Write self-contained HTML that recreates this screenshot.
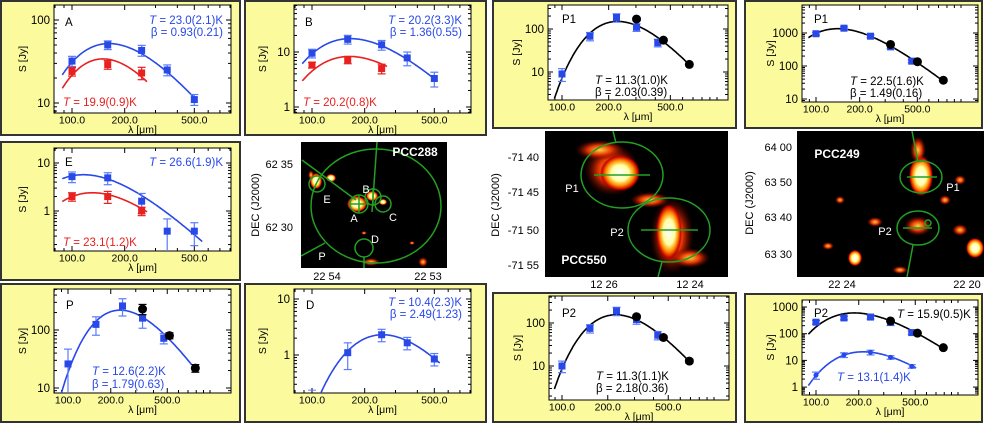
<!DOCTYPE html>
<html><head><meta charset="utf-8"><style>
html,body{margin:0;padding:0;background:#fff;overflow:hidden;}
svg{display:block;font-family:"Liberation Sans",sans-serif;}
</style></head><body>
<svg id="fig" width="984" height="423" viewBox="0 0 984 423" xmlns="http://www.w3.org/2000/svg">
<defs>
<radialGradient id="hot"><stop offset="0" stop-color="#ffffff"/><stop offset="0.45" stop-color="#ffffa0"/><stop offset="0.7" stop-color="#ff9000"/><stop offset="0.9" stop-color="#d00000"/><stop offset="1" stop-color="#800000" stop-opacity="0"/></radialGradient>
<radialGradient id="warm"><stop offset="0" stop-color="#ffd040"/><stop offset="0.5" stop-color="#e03000"/><stop offset="1" stop-color="#600000" stop-opacity="0"/></radialGradient>
</defs>
<g id="panels"></g>
<g id="images"></g>
</svg>
<script>
// ---- data ----
const lambdaPACS = [100, 160, 250, 350, 500];
const lambdaPACS3 = [100, 160, 250];
const lambdaSPIRE = [350, 550, 850];
const lambdaD = [160, 250, 350, 500];
const tickLambda = [100, 200, 500];
const tickLabels = ["100.0", "200.0", "500.0"];

const aBlue = [32, 50, 43, 25, 11];
const aBlueErr = [0.14, 0.12, 0.15, 0.15, 0.15];
const aRed = [24, 29, 23];
const aRedErr = [0.12, 0.12, 0.17];
const bBlue = [9.5, 17, 13.5, 7.8, 3.3];
const bBlueErr = [0.18, 0.18, 0.2, 0.28, 0.3];
const bRed = [5.8, 7.2, 5.0];
const bRedErr = [0.12, 0.15, 0.2];
const eBlue = [5.2, 4.9, 1.6, 0.38, 0.38];
const eBlueErr = [0.25, 0.28, 0.45, 0.8, 0.5];
const eRed = [2.0, 2.0, 1.0];
const eRedErr = [0.2, 0.28, 0.2];
const pBlue = [26, 125, 260, 160, 72];
const pBlueErr = [0.8, 0.35, 0.33, 0.33, 0.2];
const pBlack = [230, 80, 22];
const pBlackErr = [0.2, 0.12, 0.15];
const dBlue = [1.1, 2.3, 1.65, 0.85];
const dBlueErr = [0.5, 0.25, 0.25, 0.25];
const p1lBlue = [9, 68, 185, 110, 48];
const p1lBlueErr = [0.33, 0.22, 0.22, 0.2, 0.2];
const p1lBlack = [170, 55, 15];
const p1lBlackErr = [0.08, 0.08, 0.08];
const p2lBlue = [10, 75, 190, 120, 52];
const p2lBlueErr = [0.3, 0.22, 0.22, 0.22, 0.22];
const p2lBlack = [140, 46, 13];
const p2lBlackErr = [0.1, 0.1, 0.1];
const p1rBlue = [950, 1400, 800, 380, 140];
const p1rBlueErr = [0.1, 0.1, 0.1, 0.1, 0.1];
const p1rBlack = [450, 135, 37];
const p1rBlackErr = [0.06, 0.06, 0.06];
const p2rBlue = [270, 390, 420, 270, 110];
const p2rBlueErr = [0.15, 0.15, 0.15, 0.25, 0.15];
const p2rBlack = [300, 105, 30];
const p2rBlackErr = [0.08, 0.08, 0.08];
const p2rLow = [2.8, 16, 20, 13, 6];
const p2rLowErr = [0.3, 0.2, 0.2, 0.15, 0.15];

const fitNames = ["A-blue","A-red","B-blue","B-red","E-blue","E-red","P","D","P1-left","P2-left","P1-right","P2-right-black","P2-right-blue"];
const fitT = [23.0, 19.9, 20.2, 20.2, 26.6, 23.1, 12.6, 10.4, 11.3, 11.3, 22.5, 15.9, 13.1];
const fitBeta = [0.93, 1.85, 1.36, 1.4, 1.7, 1.8, 1.79, 2.49, 2.03, 2.18, 1.49, 1.8, 2.0];
const fitPeak = [52, 34, 17.5, 8.3, 5.7, 2.4, 220, 2.3, 150, 155, 1350, 600, 21];
const fitLo = [88, 88, 88, 88, 88, 88, 85, 105, 88, 88, 88, 88, 88];
const fitHi = [520, 270, 520, 270, 560, 270, 800, 540, 900, 900, 900, 900, 540];

// ---- layout ----
const BLUE = "#2848e8", EBLUE = "#5a7cff", RED = "#e82020", BLACK = "#000";
const panelDefs = [
 {id:"A", box:[1,1,240,135], plot:[54,5,231,113], x100:72, xDec:175, lDec:175, yRef:100, yRefPx:20, yDec:83, yLab:[100,10],
  series:[["blue",lambdaPACS,aBlue,aBlueErr],["red",lambdaPACS3,aRed,aRedErr]], fits:[0,1],
  texts:[["A",65,26,"start",BLACK,false],["T = 23.0(2.1)K",223,24,"end",BLUE,true],["β = 0.93(0.21)",223,36,"end",BLUE,false],["T = 19.9(0.9)K",63,106,"start",RED,true]]},
 {id:"B", box:[245,1,486,135], plot:[294,5,471,113], x100:312, xDec:175, lDec:175, yRef:10, yRefPx:52, yDec:55, yLab:[10,1],
  series:[["blue",lambdaPACS,bBlue,bBlueErr],["red",lambdaPACS3,bRed,bRedErr]], fits:[2,3],
  texts:[["B",305,26,"start",BLACK,false],["T = 20.2(3.3)K",462,24,"end",BLUE,true],["β = 1.36(0.55)",462,36,"end",BLUE,false],["T = 20.2(0.8)K",303,106,"start",RED,true]]},
 {id:"E", box:[1,142,240,280], plot:[54,148,231,251], x100:72, xDec:175, lDec:175, yRef:10, yRefPx:163, yDec:48, yLab:[10,1],
  series:[["blue",lambdaPACS,eBlue,eBlueErr],["red",lambdaPACS3,eRed,eRedErr]], fits:[4,5],
  texts:[["E",65,166,"start",BLACK,false],["T = 26.6(1.9)K",223,166,"end",BLUE,true],["T = 23.1(1.2)K",63,246,"start",RED,true]]},
 {id:"P", box:[1,284,240,422], plot:[54,289,231,393], x100:68, xDec:137, lDec:142, yRef:100, yRefPx:330, yDec:58, yLab:[100,10],
  series:[["blue",lambdaPACS,pBlue,pBlueErr],["black",lambdaSPIRE,pBlack,pBlackErr]], fits:[6],
  texts:[["P",66,309,"start",BLACK,false],["T = 12.6(2.2)K",92,375,"start",BLUE,true],["β = 1.79(0.63)",92,388,"start",BLUE,false]]},
 {id:"D", box:[245,284,486,422], plot:[294,289,471,393], x100:312, xDec:175, lDec:175, yRef:10, yRefPx:299, yDec:56, yLab:[10,1],
  series:[["blue",lambdaD,dBlue,dBlueErr]], fits:[7], limit:[100,0.2],
  texts:[["D",306,309,"start",BLACK,false],["T = 10.4(2.3)K",462,306,"end",BLUE,true],["β = 2.49(1.23)",462,318,"end",BLUE,false]]},
 {id:"P1L", box:[493,1,736,128], plot:[548,5,728,100], x100:562, xDec:137, lDec:155, yRef:100, yRefPx:29, yDec:43, yLab:[100,10],
  series:[["blue",lambdaPACS,p1lBlue,p1lBlueErr],["black",lambdaSPIRE,p1lBlack,p1lBlackErr]], fits:[8],
  texts:[["P1",562,23,"start",BLACK,false],["T = 11.3(1.0)K",595,84,"start",BLACK,true],["β = 2.03(0.39)",595,96,"start",BLACK,false]]},
 {id:"P2L", box:[493,293,736,422], plot:[549,296,729,400], x100:562, xDec:137, lDec:152, yRef:100, yRefPx:323, yDec:43, yLab:[100,10],
  series:[["blue",lambdaPACS,p2lBlue,p2lBlueErr],["black",lambdaSPIRE,p2lBlack,p2lBlackErr]], fits:[9],
  texts:[["P2",562,317,"start",BLACK,false],["T = 11.3(1.1)K",596,380,"start",BLACK,true],["β = 2.18(0.36)",596,392,"start",BLACK,false]]},
 {id:"P1R", box:[745,1,982,128], plot:[802,5,978,102], x100:816, xDec:137, lDec:145, yRef:1000, yRefPx:33, yDec:33, yLab:[1000,100,10],
  series:[["blue",lambdaPACS,p1rBlue,p1rBlueErr],["black",lambdaSPIRE,p1rBlack,p1rBlackErr]], fits:[10],
  texts:[["P1",814,23,"start",BLACK,false],["T = 22.5(1.6)K",850,85,"start",BLACK,true],["β = 1.49(0.16)",850,97,"start",BLACK,false]]},
 {id:"P2R", box:[745,294,982,422], plot:[802,300,978,395], x100:816, xDec:137, lDec:142, yRef:1000, yRefPx:307, yDec:26.7, yLab:[1000,100,10,1],
  series:[["blue",lambdaPACS,p2rBlue,p2rBlueErr],["black",lambdaSPIRE,p2rBlack,p2rBlackErr],["bluedot",lambdaPACS,p2rLow,p2rLowErr]], fits:[11,12], fitColors:[BLACK,BLUE],
  texts:[["P2",814,317,"start",BLACK,false],["T = 15.9(0.5)K",897,318,"start",BLACK,true],["T = 13.1(1.4)K",837,381,"start",BLUE,true]]}
];
const fitColorDefault = {0:BLUE,1:RED,2:BLUE,3:RED,4:BLUE,5:RED,6:BLUE,7:BLUE,8:BLACK,9:BLACK,10:BLACK};

const NS = "http://www.w3.org/2000/svg";
function mk(tag, attrs, parent){const e=document.createElementNS(NS,tag);for(const k in attrs)e.setAttribute(k,attrs[k]);if(parent)parent.appendChild(e);return e;}
function shape(lam,T,b){return Math.pow(lam,-(3+b))/(Math.exp(14388/(lam*T))-1);}

const root = document.getElementById("panels");
panelDefs.forEach(p=>{
  const xs = l => p.x100 + (Math.log10(l)-2)*p.xDec;
  const xl = l => p.x100 + (Math.log10(l)-2)*p.lDec;
  const ys = v => p.yRefPx + (Math.log10(p.yRef)-Math.log10(v))*p.yDec;
  const g = mk("g",{},root);
  
  
  const [bx0,by0,bx1,by1]=p.box, [px0,py0,px1,py1]=p.plot;
  const bg = mk("rect",{x:bx0,y:by0,width:bx1-bx0,height:by1-by0,fill:"#fbfb9e",stroke:"#333",'stroke-width':2},g);
  
  
  const pr = mk("rect",{x:px0,y:py0,width:px1-px0,height:py1-py0,fill:"#fff",stroke:"#000",'stroke-width':1},g);
  
  
  const cid = "clip"+p.id;
  const cp = mk("clipPath",{id:cid},g); mk("rect",{x:px0,y:py0,width:px1-px0,height:py1-py0},cp);
  for(let l=80;l<=1000;l+= (l<100?10:(l<1000?100:1000))){
    const x=xl(l); if(x<px0||x>px1) continue;
    const major = tickLambda.includes(l);
    const len = major?5:3;
    mk("line",{x1:x,y1:py1,x2:x,y2:py1-len,stroke:"#000"},g);
    mk("line",{x1:x,y1:py0,x2:x,y2:py0+len,stroke:"#000"},g);
  }
  tickLambda.forEach((l,i)=>{
    const t=mk("text",{x:xl(l),y:py1+10.5,'text-anchor':"middle",'font-size':10.5},g); t.textContent=tickLabels[i];
    
    
  });
  for(let d=-1;d<=4;d++){
    for(let m=1;m<10;m++){
      const v=m*Math.pow(10,d), y=ys(v); if(y<py0||y>py1) continue;
      const len=m===1?5:3;
      mk("line",{x1:px0,y1:y,x2:px0+len,y2:y,stroke:"#000"},g);
      mk("line",{x1:px1,y1:y,x2:px1-len,y2:y,stroke:"#000"},g);
    }
  }
  p.yLab.forEach(v=>{
    const t=mk("text",{x:px0-4,y:ys(v)+4,'text-anchor':"end",'font-size':11.5},g); t.textContent=String(v);
    
    
  });
  const xt=mk("text",{x:(px0+px1)/2,y:py1+20,'text-anchor':"middle",'font-size':10.5},g); xt.textContent="λ [μm]";
  
  
  const yc=(py0+py1)/2, yx=px0-28;
  const yt=mk("text",{x:yx,y:yc,'text-anchor':"middle",'font-size':10.5,transform:`rotate(-90 ${yx} ${yc})`},g); yt.textContent="S [Jy]";
  
  
  const cg = mk("g",{'clip-path':`url(#${cid})`},g);
  p.fits.forEach((fi,k)=>{
    let mx=0; for(let l=40;l<3000;l*=1.01) mx=Math.max(mx,shape(l,fitT[fi],fitBeta[fi]));
    const A=fitPeak[fi]/mx; let d="";
    for(let l=fitLo[fi];l<=fitHi[fi];l*=1.01){const v=A*shape(l,fitT[fi],fitBeta[fi]); d+=(d?"L":"M")+xs(l).toFixed(1)+","+ys(v).toFixed(1);}
    const col = p.fitColors?p.fitColors[k]:fitColorDefault[fi];
    const path=mk("path",{d:d,fill:"none",stroke:col,'stroke-width':1.6},cg);
    
    
  });
  p.series.forEach(([kind,lams,vals,errs])=>{
    const col = kind==="red"?RED:(kind==="black"?BLACK:BLUE);
    const ecol = kind==="red"?RED:(kind==="black"?BLACK:EBLUE);
    lams.forEach((l,i)=>{
      const x=xs(l), v=vals[i], y=ys(v), yl=ys(Math.max(v*(1-errs[i]),1e-4)), yh=ys(v*(1+errs[i]));
      mk("line",{x1:x,y1:yl,x2:x,y2:yh,stroke:ecol,'stroke-width':1.2},cg);
      mk("line",{x1:x-4,y1:yl,x2:x+4,y2:yl,stroke:ecol,'stroke-width':1.2},cg);
      mk("line",{x1:x-4,y1:yh,x2:x+4,y2:yh,stroke:ecol,'stroke-width':1.2},cg);
      let m;
      if(kind==="black") m=mk("circle",{cx:x,cy:y,r:4.5,fill:BLACK},cg);
      else if(kind==="bluedot") m=mk("circle",{cx:x,cy:y,r:2.5,fill:BLUE},cg);
      else m=mk("rect",{x:x-3.5,y:y-3.5,width:7,height:7,fill:col},cg);
      
      
    });
  });
  if(p.limit){
    const x=xs(p.limit[0]), y=ys(p.limit[1]);
    mk("line",{x1:x-4,y1:y-4,x2:x+4,y2:y-4,stroke:EBLUE},cg);
    const c=mk("path",{d:`M${x-3},${y+3}L${x},${y}L${x+3},${y+3}`,fill:"none",stroke:"#3a3"},cg);
    
    
  }
  p.texts.forEach(([s,x,y,anc,col,ital])=>{
    const t=mk("text",{x:x,y:y,'text-anchor':anc,fill:col,'font-size':11.5},g);
    if(ital){const ts=mk("tspan",{'font-style':"italic"},t); ts.textContent="T"; t.appendChild(document.createTextNode(s.slice(1)));}
    else t.textContent=s;
    
    
  });
});

const IMG = document.getElementById("images");
const maps = [
 {name:"pcc288-map", title:"PCC288", r:[301,142,447,268], tpos:[415,156],
  blobs:[[357,204,10,8,"hot"],[372,196,6,5,"hot"],[316,181,6,8,"hot"],[331,178,5,4,"hot"],[383,202,4,3,"hot"],[371,262,9,4,"warm"],[423,262,5,5,"warm"],[364,233,3,2,"warm"],[412,243,3,2,"warm"],[311,175,3,5,"warm"]],
  ellipses:[[376,206,65,57],[317,184,8,8],[359,204,9,9],[373,197,8,8],[383,204,8,8],[364,248,9,9]],
  lines:[[302,160,356,200],[377,142,372,212],[301,256,325,243],[364,257,364,268],[350,204,368,204],[359,195,359,213],[373,188,373,206]],
  labels:[["E",327,203],["A",354,222],["B",366,193],["C",393,221],["D",375,243],["P",322,260]],
  yl:[["62 35",293,168],["62 30",293,231]], xl:[["22 54",327,280],["22 53",428,280]], dec:[259,205]},
 {name:"pcc550-map", title:"PCC550", r:[545,131,728,277], tpos:[584,264],
  blobs:[[612,170,28,26,"warm"],[620,173,20,18,"hot"],[672,236,22,38,"warm"],[669,232,13,28,"hot"],[650,200,20,8,"warm"],[690,258,20,10,"warm"],[600,150,25,10,"warm"]],
  ellipses:[[622,175,41,33],[669,230,41,32]],
  lines:[[594,175,650,175],[641,230,698,230],[613,131,616,143],[662,262,658,277]],
  labels:[["P1",572,192],["P2",617,236]],
  yl:[["-71 40",539,161],["-71 45",539,196],["-71 50",539,234],["-71 55",539,269]], xl:[["12 26",604,288],["12 24",690,288]], dec:[499,205]},
 {name:"pcc249-map", title:"PCC249", r:[797,131,984,277], tpos:[837,158],
  blobs:[[921,176,12,20,"hot"],[918,150,8,14,"warm"],[918,226,14,10,"warm"],[945,200,6,5,"warm"],[855,258,7,8,"hot"],[975,248,9,10,"hot"],[875,222,8,5,"warm"],[960,180,6,5,"warm"],[960,230,8,6,"warm"],[840,200,5,4,"warm"],[900,270,8,4,"warm"],[828,246,6,4,"warm"]],
  ellipses:[[921,177,21,16],[918,228,21,17],[928,223,3,3]],
  lines:[[907,177,937,177],[903,228,932,228],[912,131,918,162],[913,245,907,277]],
  labels:[["P1",953,191],["P2",885,235]],
  yl:[["64 00",792,151],["63 50",792,186],["63 40",792,221],["63 30",792,258]], xl:[["22 24",842,288],["22 20",967,288]], dec:[753,203]}
];
maps.forEach(m=>{
  const g=mk("g",{},IMG);
  
  
  const [x0,y0,x1,y1]=m.r;
  mk("rect",{x:x0,y:y0,width:x1-x0,height:y1-y0,fill:"#000"},g);
  const cid="c"+m.name; const cp=mk("clipPath",{id:cid},g); mk("rect",{x:x0,y:y0,width:x1-x0,height:y1-y0},cp);
  const ig=mk("g",{'clip-path':`url(#${cid})`},g);
  m.blobs.forEach(([cx,cy,rx,ry,f])=>mk("ellipse",{cx,cy,rx,ry,fill:`url(#${f})`},ig));
  m.ellipses.forEach(([cx,cy,rx,ry])=>mk("ellipse",{cx,cy,rx,ry,fill:"none",stroke:"#22a022",'stroke-width':1.5},ig));
  m.lines.forEach(([a,b,c,d])=>mk("line",{x1:a,y1:b,x2:c,y2:d,stroke:"#22a022",'stroke-width':1.5},ig));
  m.labels.forEach(([s,x,y])=>{const t=mk("text",{x,y,fill:"#fff",'font-size':11,'text-anchor':"middle"},ig);t.textContent=s;
    
    });
  const tt=mk("text",{x:m.tpos[0],y:m.tpos[1],fill:"#fff",'font-size':12,'font-weight':"bold",'text-anchor':"middle"},ig);
  tt.textContent=m.title;
  
  
  m.yl.forEach(([s,x,y])=>{const t=mk("text",{x,y,'font-size':11,'text-anchor':"end"},g);t.textContent=s;
    
    });
  m.xl.forEach(([s,x,y])=>{const t=mk("text",{x,y,'font-size':11,'text-anchor':"middle"},g);t.textContent=s;
    
    });
  const [dx,dy]=m.dec;
  const dt=mk("text",{x:dx,y:dy,'font-size':11,'text-anchor':"middle",transform:`rotate(-90 ${dx} ${dy})`},g);dt.textContent="DEC (J2000)";
  
  
});
</script>
</body></html>
